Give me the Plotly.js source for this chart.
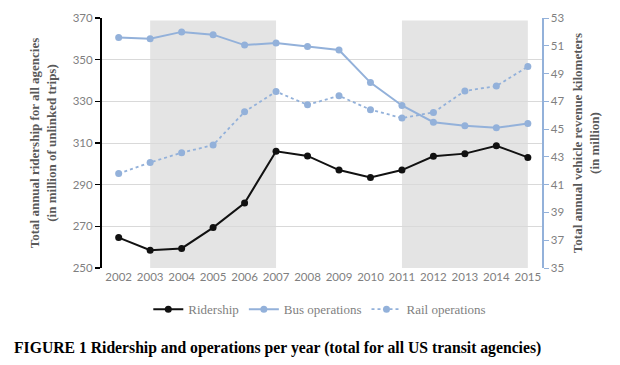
<!DOCTYPE html>
<html>
<head>
<meta charset="utf-8">
<script src="https://cdn.plot.ly/plotly-3.0.1.min.js"></script>
<style>html,body{margin:0;padding:0;background:#fff;}#chart{width:620px;height:365px;}</style>
</head>
<body>
<div id="chart"></div>
<script>
var years = [2002,2003,2004,2005,2006,2007,2008,2009,2010,2011,2012,2013,2014,2015];
var ridership = [264.6,258.5,259.4,269.4,281.2,306.0,303.8,297.0,293.5,297.0,303.6,304.9,308.7,303.1];
var busOps = [51.6,51.5,52.0,51.8,51.05,51.2,50.95,50.7,48.35,46.7,45.5,45.25,45.1,45.4];
var railOps = [41.8,42.6,43.3,43.85,46.25,47.7,46.75,47.4,46.4,45.8,46.2,47.75,48.1,49.5];
var shadeStart = [2003,2011];
var shadeEnd = [2007,2015];
var seriesNames = ['Ridership','Bus operations','Rail operations'];

var blue = '#93b1da';
var traces = [
  {x: years, y: ridership, name: seriesNames[0], type:'scatter', mode:'lines+markers',
   line:{color:'#111111', width:2}, marker:{color:'#111111', size:7}, yaxis:'y'},
  {x: years, y: busOps, name: seriesNames[1], type:'scatter', mode:'lines+markers',
   line:{color:blue, width:2}, marker:{color:blue, size:7}, yaxis:'y2'},
  {x: years, y: railOps, name: seriesNames[2], type:'scatter', mode:'lines+markers',
   line:{color:blue, width:1.8, dash:'dot'}, marker:{color:blue, size:7}, yaxis:'y2'}
];

var shapes = shadeStart.map(function(s,i){
  return {type:'rect', xref:'x', yref:'paper', x0:s, x1:shadeEnd[i], y0:0, y1:0.99,
          fillcolor:'#e4e4e4', line:{width:0}, layer:'below'};
});

var layout = {
  width:620, height:365,
  margin:{l:102, r:78, t:18, b:97},
  paper_bgcolor:'#ffffff', plot_bgcolor:'rgba(0,0,0,0)',
  showlegend:true,
  legend:{orientation:'h', x:0.495, xanchor:'center', y:-0.165, yanchor:'middle',
          font:{family:'Liberation Serif, serif', size:13, color:'#7f7f7f'},
          itemwidth:30, tracegroupgap:0},
  xaxis:{range:[2001.47,2015.45], tickvals:years, ticktext:years.map(String),
         showgrid:false, zeroline:false, showline:false, ticks:'',
         tickfont:{family:'Lato, sans-serif', size:11.5, color:'#7f7f7f'}, fixedrange:true},
  yaxis:{range:[250,370], dtick:20, tick0:250, showgrid:true, gridcolor:'#d9d9d9', gridwidth:1,
         zeroline:false, showline:true, linecolor:'#000000', linewidth:2,
         ticks:'outside', ticklen:5, tickcolor:'#000000', tickwidth:1.5,
         tickfont:{family:'Lato, sans-serif', size:11.5, color:'#7f7f7f'},
         title:{text:'Total annual ridership for all agencies<br>(in million of unlinked trips)',
                font:{family:'Liberation Serif, serif', size:13, color:'#595959', weight:'bold'}, standoff:13}},
  yaxis2:{range:[35,53], dtick:2, tick0:35, overlaying:'y', side:'right', showgrid:false,
          zeroline:false, showline:true, linecolor:blue, linewidth:1.5,
          ticks:'outside', ticklen:5, tickcolor:blue, tickwidth:1,
          tickfont:{family:'Lato, sans-serif', size:11.5, color:'#7f7f7f'},
          title:{text:'Total annual vehicle revenue kilometers<br>(in million)',
                 font:{family:'Liberation Serif, serif', size:13, color:'#595959', weight:'bold'}, standoff:9}},
  shapes: shapes,
  annotations:[{xref:'paper', yref:'paper', x:-0.205, y:-0.32, xanchor:'left', yanchor:'middle',
    text:'<b>FIGURE 1 Ridership and operations per year (total for all US transit agencies)</b>',
    showarrow:false, font:{family:'Liberation Serif, serif', size:15.7, color:'#000000'}}]
};

Plotly.newPlot('chart', traces, layout, {displayModeBar:false, staticPlot:true});
</script>
</body>
</html>
